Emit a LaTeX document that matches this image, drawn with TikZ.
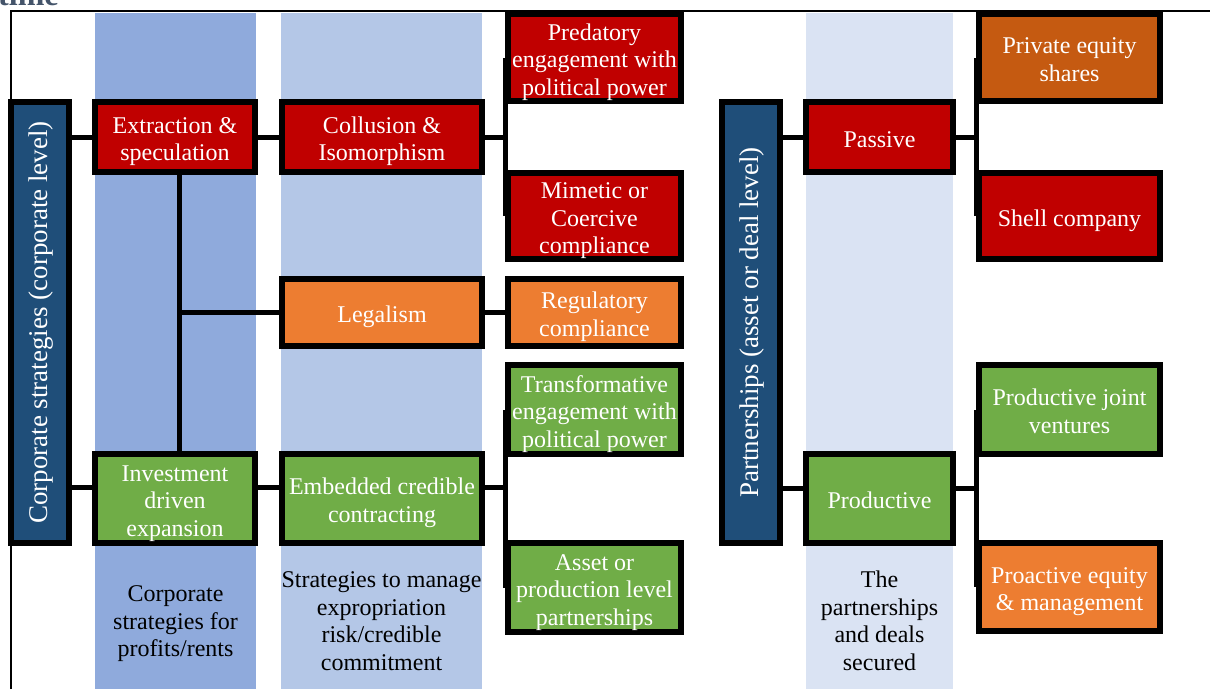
\documentclass[tikz,border=0pt]{standalone}
\usepackage{fontspec}
\setmainfont{Liberation Serif}
\definecolor{cred}{HTML}{C00000}
\definecolor{corange}{HTML}{ED7D31}
\definecolor{cbrown}{HTML}{C55A11}
\definecolor{cgreen}{HTML}{70AD47}
\definecolor{cdblue}{HTML}{1F4E79}
\definecolor{colA}{HTML}{8FAADC}
\definecolor{colB}{HTML}{B4C7E7}
\definecolor{colC}{HTML}{DAE3F3}
\definecolor{ctime}{HTML}{44546A}
\pgfdeclarelayer{bg}
\pgfdeclarelayer{lines}
\pgfsetlayers{bg,lines,main}
\newcommand{\bx}[7]{%
  \node[box, fill=#2, minimum width=#3pt, minimum height=#4pt] (#1) at (#5,#6) {};
  \node[btext] (#1t) at ([yshift=-4.5pt]#1.center) {\strut #7\strut};}
\begin{document}
\begin{tikzpicture}[x=1pt,y=-1pt,
  box/.style={draw=black, line width=6pt, inner sep=0pt},
  btext/.style={align=center, text=white, inner sep=0pt,
    font=\fontsize{24}{27.5}\selectfont},
  conn/.style={draw=black, line width=5pt},
  coltext/.style={align=center, text=black, font=\fontsize{24}{27.5}\selectfont, inner sep=0pt},
  vtext/.style={rotate=90, text=white, font=\fontsize{27}{30}\selectfont, inner sep=0pt}
]
\useasboundingbox (0,0) rectangle (1210,689);
% cut-off title
\node[anchor=base west, inner sep=0pt, text=ctime, font=\bfseries\fontsize{32}{36}\selectfont] (title) at (-2,5) {time};

% boxes
\node[box, fill=cdblue, minimum width=58pt, minimum height=441pt] (corp) at (40,322.5) {};
\node[vtext] (corpt) at ([xshift=1pt]corp.center) {Corporate strategies (corporate level)};
\bx{extr}{cred}{160}{70}{175}{137}{Extraction \&\\speculation}
\bx{coll}{cred}{200}{70}{382}{137}{Collusion \&\\Isomorphism}
\bx{pred}{cred}{173}{87}{594.5}{57.5}{Predatory\\engagement with\\political power}
\bx{mim}{cred}{173}{86}{594.5}{216}{Mimetic or\\Coercive\\compliance}
\bx{legal}{corange}{200}{67}{382}{312.5}{Legalism}
\bx{reg}{corange}{173}{67}{594.5}{312.5}{Regulatory\\compliance}
\bx{trans}{cgreen}{173}{89}{594.5}{409.5}{Transformative\\engagement with\\political power}
\bx{asset}{cgreen}{173}{89}{594.5}{587.5}{Asset or\\production level\\partnerships}
\bx{inv}{cgreen}{160}{89}{175}{498.5}{Investment\\driven\\expansion}
\bx{emb}{cgreen}{200}{89}{382}{498.5}{Embedded credible\\contracting}

\node[box, fill=cdblue, minimum width=58pt, minimum height=441pt] (part) at (751,322.5) {};
\node[vtext] (partt) at ([xshift=1pt]part.center) {Partnerships (asset or deal level)};
\bx{pass}{cred}{147}{70}{879.5}{137}{Passive}
\bx{prod}{cgreen}{147}{89}{879.5}{498.5}{Productive}
\bx{pe}{cbrown}{181}{87}{1069.5}{57.5}{Private equity\\shares}
\bx{shell}{cred}{181}{86}{1069.5}{216}{Shell company}
\bx{pjv}{cgreen}{181}{89}{1069.5}{409.5}{Productive joint\\ventures}
\bx{pro}{corange}{181}{88}{1069.5}{587}{Proactive equity\\\& management}

% column captions
\node[coltext] (capA) at (175.5,624) {Corporate\\strategies for\\profits/rents};
\node[coltext] (capB) at (381.5,621) {Strategies to manage\\expropriation\\risk/credible\\commitment};
\node[coltext] (capC) at (879.5,621) {The\\partnerships\\and deals\\secured};

\begin{pgfonlayer}{bg}
% frame
\draw[line width=2pt] (11,689) -- (11,11) -- (1212,11);
% column backgrounds
\fill[colA] (95,13) rectangle (256,689);
\fill[colB] (281,13) rectangle (482,689);
\fill[colC] (806,13) rectangle (953,689);
\end{pgfonlayer}

\coordinate (invc) at ([yshift=11pt]inv.west);
\coordinate (prodc) at ([yshift=10pt]prod.west);
\coordinate (vx) at ([xshift=4pt]extr.south);

\begin{pgfonlayer}{lines}
% corporate side
\draw[conn] (corp.east |- extr.west) -- (extr.west);
\draw[conn] (extr.east) -- (coll.west);
\draw[conn] (coll.east) -- (coll.east -| pred.west);
\draw[conn] (pred.west) -- (mim.west);
\draw[conn] (vx) -- (vx |- inv.north);
\draw[conn] (vx |- legal.west) -- (legal.west);
\draw[conn] (legal.east) -- (reg.west);
\draw[conn] (corp.east |- invc) -- (invc);
\draw[conn] (inv.east |- invc) -- (emb.west |- invc);
\draw[conn] (emb.east |- invc) -- (trans.west |- invc);
\draw[conn] (trans.west) -- (asset.west);
% partnership side
\draw[conn] (part.east |- pass.west) -- (pass.west);
\draw[conn] (pass.east) -- (pass.east -| pe.west);
\draw[conn] (pe.west) -- (shell.west);
\draw[conn] (part.east |- prodc) -- (prodc);
\draw[conn] (prod.east |- prodc) -- (pjv.west |- prodc);
\draw[conn] (pjv.west) -- (pro.west);
\end{pgfonlayer}
\end{tikzpicture}
\end{document}
